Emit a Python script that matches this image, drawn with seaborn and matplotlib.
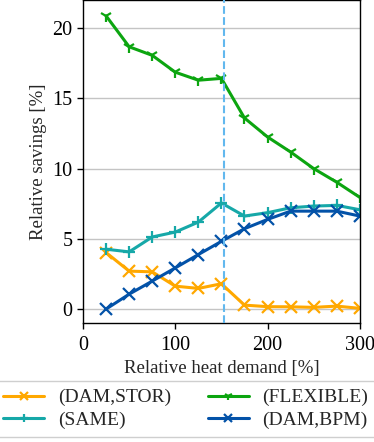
# relative savings vs relative heat demand, four configurations
import numpy as np
import pandas as pd
import matplotlib
matplotlib.use('Agg')
import matplotlib.pyplot as plt
import seaborn as sns

demand = [25, 50, 75, 100, 125, 150, 175, 200, 225, 250, 275, 300]

dam_stor = [4.02, 2.70, 2.65, 1.63, 1.47, 1.80, 0.28, 0.17, 0.16, 0.12, 0.21, 0.05]
same = [4.26, 4.07, 5.13, 5.48, 6.19, 7.55, 6.62, 6.86, 7.21, 7.33, 7.38, 7.07]
flexible = [20.87, 18.67, 18.06, 16.86, 16.29, 16.42, 13.60, 12.25, 11.18, 10.00, 9.03, 7.95]
dam_bpm = [0.0, 1.06, 1.99, 2.93, 3.88, 4.82, 5.72, 6.38, 6.97, 6.97, 6.97, 6.62]

# order chosen so the 2-column legend reads row-wise like the original
labels = ['(DAM,STOR)', '(SAME)', '(FLEXIBLE)', '(DAM,BPM)']
series = [dam_stor, same, flexible, dam_bpm]
colors = ['#FFA800', '#16A8A8', '#0CA510', '#0352A8']
markers = ['x', '+', '1', 'x']

threshold = 153

sns.set_style('white')
plt.rcParams['font.family'] = ['Liberation Serif', 'DejaVu Serif']
plt.rcParams['mathtext.fontset'] = 'stix'

fig = plt.figure(figsize=(3.74, 4.42), dpi=100)
ax = fig.add_axes([0.222, 0.269, 0.740, 0.731])

ax.yaxis.grid(True, color='#C4C4C4', linewidth=1.0)
ax.set_axisbelow(True)

for lab, vals, col, mk in zip(labels, series, colors, markers):
    d = pd.DataFrame({'Demand': demand, 'Savings': vals})
    sns.lineplot(data=d, x='Demand', y='Savings', color=col, marker=mk,
                 markeredgecolor=col, markerfacecolor=col, linewidth=2.2,
                 markersize=9, markeredgewidth=1.6, label=lab, ax=ax)

ax.axvline(threshold, color='#62B8EE', linestyle='--', linewidth=1.5, zorder=5)

ax.set_xlim(0, 300)
ax.set_ylim(-1, 22)
ax.set_xticks([0, 100, 200, 300])
ax.set_yticks([0, 5, 10, 15, 20])
ax.tick_params(axis='both', labelsize=14.5, length=4, width=1, direction='out',
               bottom=True, left=True, colors='black')
ax.tick_params(axis='x', pad=5)
for s in ax.spines.values():
    s.set_color('black')
    s.set_linewidth(1.0)
ax.set_xlabel('Relative heat demand [%]', fontsize=13.5, labelpad=4)
ax.set_ylabel('Relative savings [%]', fontsize=13.5)

handles, labs = ax.get_legend_handles_labels()
ax.legend(handles, labs, loc='upper center', bbox_to_anchor=(0.497, 0.138),
          bbox_transform=fig.transFigure, borderaxespad=0, markerscale=0.7,
          ncol=2, fontsize=14, frameon=True, fancybox=False,
          edgecolor='#C4C4C4', handlelength=2.1, columnspacing=1.9,
          handletextpad=0.7, borderpad=0.4, labelspacing=0.25)

fig.savefig('out.png', dpi=100)
